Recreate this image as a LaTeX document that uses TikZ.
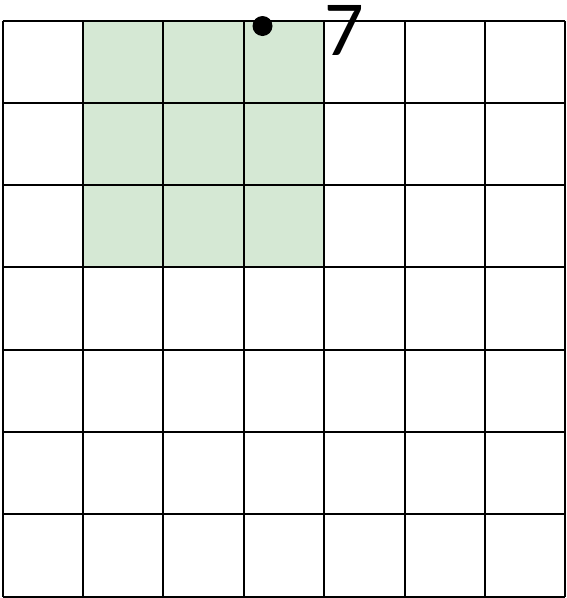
\documentclass[tikz,border=0pt]{standalone}
\usepackage{fontspec}
\setmainfont{Carlito}
\begin{document}
\begin{tikzpicture}[x=1pt,y=-1pt,
  gridline/.style={line width=2pt,black},
  greencell/.style={fill={rgb,255:red,213;green,232;blue,212}}]
\useasboundingbox (0,0) rectangle (566,598);
\fill[greencell] (82.9,20.5) rectangle (324.1,267.4);
\foreach \i in {0,...,7} {
  \draw[gridline] ({2.5+80.4*\i},20.5) -- ({2.5+80.4*\i},596.6);
  \draw[gridline] (2.5,{20.5+82.3*\i}) -- (565,{20.5+82.3*\i});
}
\coordinate (d) at (262.5,26);
\fill (d) circle (10);
\node[anchor=base west,inner sep=0pt,font=\fontsize{78}{78}\selectfont] (seven) at (324,55) {7};
\end{tikzpicture}
\end{document}
